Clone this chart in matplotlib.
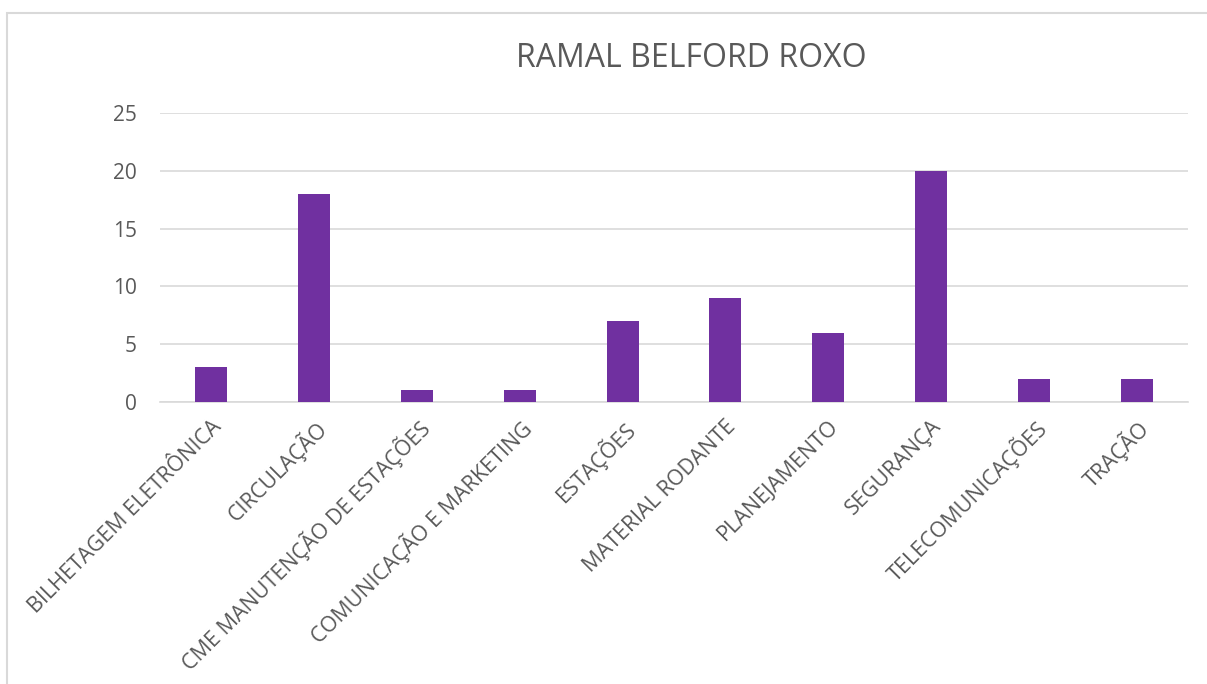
import matplotlib
matplotlib.use("Agg")
import matplotlib.pyplot as plt
from matplotlib.patches import Rectangle

categories = ["BILHETAGEM ELETRÔNICA", "CIRCULAÇÃO", "CME MANUTENÇÃO DE ESTAÇÕES",
              "COMUNICAÇÃO E MARKETING", "ESTAÇÕES", "MATERIAL RODANTE",
              "PLANEJAMENTO", "SEGURANÇA", "TELECOMUNICAÇÕES", "TRAÇÃO"]
values = [3, 18, 1, 1, 7, 9, 6, 20, 2, 2]
yticks = [0, 5, 10, 15, 20, 25]
title = "RAMAL BELFORD ROXO"

plt.rcParams['font.family'] = ['Open Sans', 'DejaVu Sans']
W, H = 1207, 684
fig = plt.figure(figsize=(W / 100, H / 100), dpi=100)
fig.patch.set_facecolor("white")

# chart frame
fig.add_artist(Rectangle((7 / W, -0.05), 1.1, (H - 13) / H + 0.05, transform=fig.transFigure,
                         fill=False, edgecolor="#D9D9D9", linewidth=1.5))

ax = fig.add_axes([160 / W, 1 - 402 / H, (1188 - 160) / W, (402 - 113) / H])
x = range(len(categories))
ax.bar(x, values, width=0.31, color="#7030A0", zorder=3)
ax.set_xlim(-0.5, len(categories) - 0.5)
ax.set_ylim(0, 25)
ax.set_yticks(yticks)
ax.grid(axis="y", color="#D9D9D9", linewidth=1.2, zorder=0)
for s in ["top", "right", "left"]:
    ax.spines[s].set_visible(False)
ax.spines["bottom"].set_color("#D9D9D9")
ax.spines["bottom"].set_linewidth(1.2)
ax.tick_params(axis="y", length=0, colors="#595959", labelsize=15, pad=16.5)
ax.tick_params(axis="x", length=0, colors="#595959", labelsize=15.5, pad=10)
ax.set_xticks(list(x))
ax.set_xticklabels(categories, rotation=45, ha="right", va="top", rotation_mode="anchor")
for lbl in ax.get_xticklabels():
    lbl.set_color("#595959")

fig.text(691 / W, 1 - 67 / H, title, ha="center", va="baseline", fontsize=23, color="#595959")

fig.savefig("out.png", dpi=100, facecolor="white")
